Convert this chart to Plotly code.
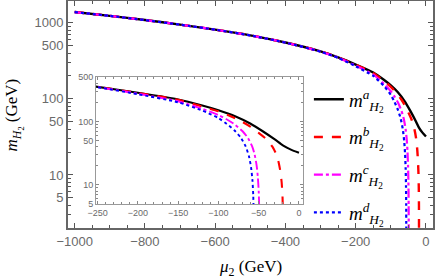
import plotly.graph_objects as go
import numpy as np

# ---- data ----
mu_a = [-1000, -900, -800, -700, -600, -500, -400, -300, -250, -200, -150, -120, -100, -80, -60, -45, -30, -20, -10, 0]
m_a  = [1384, 1233, 1086, 946, 813, 684, 550, 420, 350, 282, 222, 178, 150, 122, 92, 70, 52, 42, 36, 32]

mu_b = [-1000, -900, -800, -700, -600, -500, -400, -300, -250, -200, -150, -120, -100, -85, -70, -60, -50, -40, -33, -28, -25, -23, -21.5, -20.5, -20, -19.8]
m_b  = [1384, 1233, 1086, 946, 813, 684, 550, 420, 349, 281, 219, 172, 144, 121, 98, 82, 66, 52, 40, 30, 22, 16, 11, 7, 4, 1]

mu_c = [-1000, -900, -800, -700, -600, -500, -400, -300, -250, -200, -150, -120, -100, -90, -80, -70, -63, -58, -55, -52.5, -51, -50, -49.3, -49]
m_c  = [1383, 1232, 1085, 945, 812, 683, 549, 418, 347, 273, 208, 158, 126, 108, 90, 70, 54, 40, 30, 20, 13, 8, 4, 1]

mu_d = [-1000, -900, -800, -700, -600, -500, -400, -300, -250, -200, -150, -120, -100, -90, -80, -72, -66, -62, -59.5, -57.8, -56.8, -56.3, -56]
m_d  = [1382, 1231, 1084, 944, 811, 682, 548, 417, 345, 268, 200, 148, 113, 92, 72, 55, 40, 28, 19, 12, 7, 4, 1]

names = ["<i>m</i><sup><i>a</i></sup><sub><i>H</i><sub>2</sub></sub>",
         "<i>m</i><sup><i>b</i></sup><sub><i>H</i><sub>2</sub></sub>",
         "<i>m</i><sup><i>c</i></sup><sub><i>H</i><sub>2</sub></sub>",
         "<i>m</i><sup><i>d</i></sup><sub><i>H</i><sub>2</sub></sub>"]

main_yticks = [5, 10, 50, 100, 500, 1000]
inset_yticks = [5, 10, 50, 100, 500]
main_xticks = [-1000, -800, -600, -400, -200, 0]
inset_xticks = [-250, -200, -150, -100, -50, 0]

series = [(mu_a, m_a, "black", "solid", 2.4),
          (mu_b, m_b, "#FF0000", "dash", 2.4),
          (mu_c, m_c, "#FF00FF", "dashdot", 2.2),
          (mu_d, m_d, "#0000FF", "dot", 2.2)]

fig = go.Figure()
for i, (mx, my, col, dash, w) in enumerate(series):
    fig.add_trace(go.Scatter(x=mx, y=my, mode="lines", name=names[i],
                             line=dict(color=col, dash=dash, width=w, shape="spline", smoothing=0.6),
                             legendgroup=str(i), xaxis="x", yaxis="y"))
for i, (mx, my, col, dash, w) in enumerate(series):
    fig.add_trace(go.Scatter(x=mx, y=my, mode="lines", showlegend=False,
                             line=dict(color=col, dash=dash, width=w - 0.3, shape="spline", smoothing=0.6),
                             xaxis="x2", yaxis="y2"))

def log_minor(lo, hi, skip):
    vals = []
    for d in range(-1, 5):
        for k in range(1, 10):
            v = k * 10 ** d
            if lo <= v <= hi and v not in skip:
                vals.append(v)
    return vals

tickgray = "#555555"
labgray = "#6a6a6a"
sans = "Liberation Sans, Arial, sans-serif"
serif = "Liberation Serif, DejaVu Serif, serif"

fig.update_layout(
    width=436, height=278,
    margin=dict(l=68, r=3, t=1, b=50, autoexpand=False),
    paper_bgcolor="white", plot_bgcolor="white",
    showlegend=True,
    legend=dict(x=0.66, y=0.65, xanchor="left", yanchor="top",
                font=dict(family=serif, size=19, color="black"),
                bgcolor="rgba(0,0,0,0)", tracegroupgap=10, itemwidth=30),
    xaxis=dict(range=[-1019, 20], showgrid=False, zeroline=False, automargin=False,
               showline=True, linecolor="#666666", linewidth=2, mirror="allticks",
               ticks="inside", ticklen=5, tickcolor=tickgray, tickwidth=1,
               tickmode="array", tickvals=main_xticks,
               tickfont=dict(family=sans, size=13, color=labgray),
               minor=dict(ticks="inside", ticklen=3, tickcolor=tickgray, dtick=50, showgrid=False)),
    yaxis=dict(type="log", range=[0.303, 3.286], showgrid=False, zeroline=False, automargin=False,
               showline=True, linecolor="#666666", linewidth=2, mirror="allticks",
               ticks="inside", ticklen=5, tickcolor=tickgray, tickwidth=1,
               tickmode="array", tickvals=main_yticks, ticktext=[str(v) for v in main_yticks],
               tickfont=dict(family=sans, size=13, color=labgray),
               minor=dict(ticks="inside", ticklen=3, tickcolor=tickgray,
                          tickmode="array", tickvals=log_minor(2, 1900, main_yticks), showgrid=False)),
    xaxis2=dict(domain=[0.0767, 0.6438], anchor="y2", range=[-252, 5], showgrid=False, zeroline=False,
                automargin=False,
                showline=True, linecolor="#999999", linewidth=1, mirror="allticks",
                ticks="inside", ticklen=3, tickcolor="#888888",
                tickmode="array", tickvals=inset_xticks,
                tickfont=dict(family=sans, size=9, color=labgray),
                minor=dict(ticks="inside", ticklen=2, tickcolor="#888888", dtick=10, showgrid=False)),
    yaxis2=dict(domain=[0.1057, 0.665], anchor="x2", type="log", range=[np.log10(5), np.log10(500)],
                showgrid=False, zeroline=False, automargin=False,
                showline=True, linecolor="#999999", linewidth=1, mirror="allticks",
                ticks="inside", ticklen=3, tickcolor="#888888",
                tickmode="array", tickvals=inset_yticks, ticktext=[str(v) for v in inset_yticks],
                tickfont=dict(family=sans, size=9, color=labgray),
                minor=dict(ticks="inside", ticklen=2, tickcolor="#888888",
                           tickmode="array", tickvals=log_minor(5, 500, inset_yticks), showgrid=False)),
    annotations=[
        dict(text="<i>μ</i><sub>2</sub> (GeV)", xref="paper", yref="paper", x=0.5, y=-0.176,
             xanchor="center", yanchor="middle", showarrow=False,
             font=dict(family=serif, size=17, color="black")),
        dict(text="<i>m</i><sub><i>H</i><sub>2</sub></sub> (GeV)", xref="paper", yref="paper", x=-0.148, y=0.5,
             xanchor="center", yanchor="middle", showarrow=False, textangle=-90,
             font=dict(family=serif, size=17, color="black")),
    ],
)

fig.write_html("out.html", config={"displayModeBar": False},
               post_script="document.body.style.margin='0';document.body.style.padding='0';")
